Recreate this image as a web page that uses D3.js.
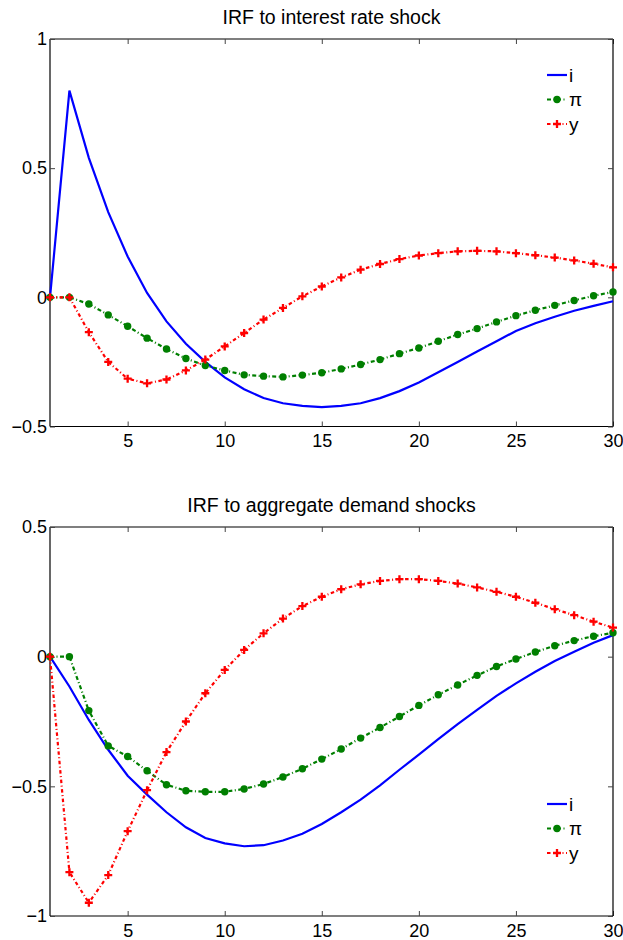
<!DOCTYPE html>
<html>
<head>
<meta charset="utf-8">
<script src="https://cdn.jsdelivr.net/npm/d3@7"></script>
<style>
  body { margin: 0; background: #fff; }
  svg text { font-family: "Liberation Sans", Arial, Helvetica, sans-serif; }
</style>
</head>
<body>
<svg id="chart" width="623" height="940"></svg>
<script>
// IRF panels, periods 1..30
const periods = d3.range(1, 31);

// panel 1: interest rate shock
const rateI = [0, 0.80, 0.54, 0.33, 0.158, 0.017, -0.093, -0.18, -0.25, -0.31,
  -0.356, -0.39, -0.41, -0.42, -0.425, -0.42, -0.41, -0.39, -0.363, -0.33,
  -0.29, -0.25, -0.21, -0.17, -0.13, -0.10, -0.075, -0.052, -0.033, -0.015];
const ratePi = [0, 0, -0.026, -0.068, -0.112, -0.158, -0.2, -0.237, -0.264, -0.283,
  -0.3, -0.305, -0.308, -0.301, -0.292, -0.277, -0.26, -0.241, -0.218, -0.196,
  -0.17, -0.144, -0.121, -0.095, -0.071, -0.05, -0.031, -0.012, 0.006, 0.021];
const rateY = [0, 0, -0.135, -0.25, -0.315, -0.333, -0.318, -0.283, -0.241, -0.19,
  -0.138, -0.086, -0.041, 0.004, 0.042, 0.077, 0.107, 0.129, 0.148, 0.162,
  0.171, 0.178, 0.18, 0.178, 0.171, 0.163, 0.154, 0.143, 0.13, 0.116];

// panel 2: aggregate demand shocks
const demandI = [0, -0.115, -0.244, -0.359, -0.459, -0.532, -0.6, -0.658, -0.699, -0.72,
  -0.731, -0.727, -0.709, -0.683, -0.645, -0.6, -0.551, -0.496, -0.436, -0.378,
  -0.318, -0.26, -0.205, -0.151, -0.103, -0.058, -0.017, 0.019, 0.054, 0.083];
const demandPi = [0, 0, -0.208, -0.344, -0.385, -0.44, -0.494, -0.517, -0.521, -0.521,
  -0.51, -0.491, -0.464, -0.432, -0.395, -0.356, -0.314, -0.273, -0.231, -0.188,
  -0.147, -0.109, -0.072, -0.038, -0.009, 0.018, 0.042, 0.062, 0.079, 0.092];
const demandY = [0, -0.831, -0.949, -0.842, -0.673, -0.515, -0.368, -0.25, -0.141, -0.051,
  0.026, 0.09, 0.147, 0.195, 0.231, 0.26, 0.279, 0.292, 0.299, 0.299,
  0.292, 0.282, 0.267, 0.25, 0.231, 0.208, 0.183, 0.16, 0.135, 0.112];

const xTicks = [5, 10, 15, 20, 25, 30];
const seriesNames = ["i", "\u03c0", "y"];

const styles = [
  { color: "#0000ff", dash: null, marker: null },
  { color: "#007f00", dash: "4,2.5,1,2.5", marker: "circle" },
  { color: "#ff0000", dash: "3.5,2.5,1,2.5", marker: "plus" }
];

const panels = [
  { title: "IRF to interest rate shock", top: 39, bottom: 426.5,
    domain: [-0.5, 1], yTicks: [-0.5, 0, 0.5, 1],
    series: [rateI, ratePi, rateY], legendY: 75 },
  { title: "IRF to aggregate demand shocks", top: 527, bottom: 916,
    domain: [-1, 0.5], yTicks: [-1, -0.5, 0, 0.5],
    series: [demandI, demandPi, demandY], legendY: 804 }
];

const svg = d3.select("#chart");
const left = 50, right = 613;
const fmt = v => (v < 0 ? "\u2212" + Math.abs(v) : String(v));

const x = d3.scaleLinear().domain([1, 30]).range([left, right]);

function drawMarker(g, type, color) {
  if (type === "circle") {
    g.append("circle").attr("r", 3.7).attr("fill", color);
  } else if (type === "plus") {
    g.append("path").attr("d", "M-4,0H4M0,-4V4")
      .attr("stroke", color).attr("stroke-width", 2.3).attr("fill", "none");
  }
}

panels.forEach(p => {
  const y = d3.scaleLinear().domain(p.domain).range([p.bottom, p.top]);
  const g = svg.append("g");

  // title
  g.append("text")
    .attr("x", (left + right) / 2).attr("y", p.top - 15)
    .attr("text-anchor", "middle").attr("font-size", 19.5)
    .text(p.title);

  // axes, ticks inward on all sides
  const tickLen = 5;
  const axB = g.append("g").attr("transform", `translate(0,${p.bottom})`)
    .call(d3.axisBottom(x).tickValues(xTicks).tickSize(-tickLen).tickPadding(8).tickFormat(d3.format("d")));
  const axT = g.append("g").attr("transform", `translate(0,${p.top})`)
    .call(d3.axisTop(x).tickValues(xTicks).tickSize(-tickLen).tickFormat(""));
  const axL = g.append("g").attr("transform", `translate(${left},0)`)
    .call(d3.axisLeft(y).tickValues(p.yTicks).tickSize(-tickLen).tickPadding(3).tickFormat(fmt));
  const axR = g.append("g").attr("transform", `translate(${right},0)`)
    .call(d3.axisRight(y).tickValues(p.yTicks).tickSize(-tickLen).tickFormat(""));

  [axB, axT, axL, axR].forEach(a => {
    a.select(".domain").attr("stroke", "#000").attr("stroke-width", 1.2);
    a.selectAll(".tick line").attr("stroke", "#444");
    a.selectAll("text").attr("font-size", 18).attr("fill", "#000")
      .attr("font-family", "'Liberation Sans', Arial, sans-serif");
  });
  axL.select(".domain").attr("d", `M0,${p.top}V${p.bottom}`);
  axR.select(".domain").attr("d", `M0,${p.top}V${p.bottom}`);
  axB.select(".domain").attr("d", `M${left},0H${right}`);
  axT.select(".domain").attr("d", `M${left},0H${right}`);

  // series
  const line = d3.line().x((d, i) => x(periods[i])).y(d => y(d));
  p.series.forEach((vals, k) => {
    const st = styles[k];
    g.append("path").datum(vals)
      .attr("d", line)
      .attr("fill", "none")
      .attr("stroke", st.color)
      .attr("stroke-width", 2.2)
      .attr("stroke-dasharray", st.dash);
    if (st.marker) {
      g.selectAll(null).data(vals).join("g")
        .attr("transform", (d, i) => `translate(${x(periods[i])},${y(d)})`)
        .each(function () { drawMarker(d3.select(this), st.marker, st.color); });
    }
  });

  // legend
  const lg = g.append("g").attr("transform", `translate(547,${p.legendY})`);
  seriesNames.forEach((name, k) => {
    const st = styles[k];
    const row = lg.append("g").attr("transform", `translate(0,${k * 24.5})`);
    row.append("line").attr("x1", 0).attr("x2", 20)
      .attr("stroke", st.color).attr("stroke-width", 2.2)
      .attr("stroke-dasharray", st.dash);
    if (st.marker) drawMarker(row.append("g").attr("transform", "translate(10,0)"), st.marker, st.color);
    row.append("text").attr("x", 22).attr("y", 6.5)
      .attr("font-size", 19).text(name);
  });
});
</script>
</body>
</html>
